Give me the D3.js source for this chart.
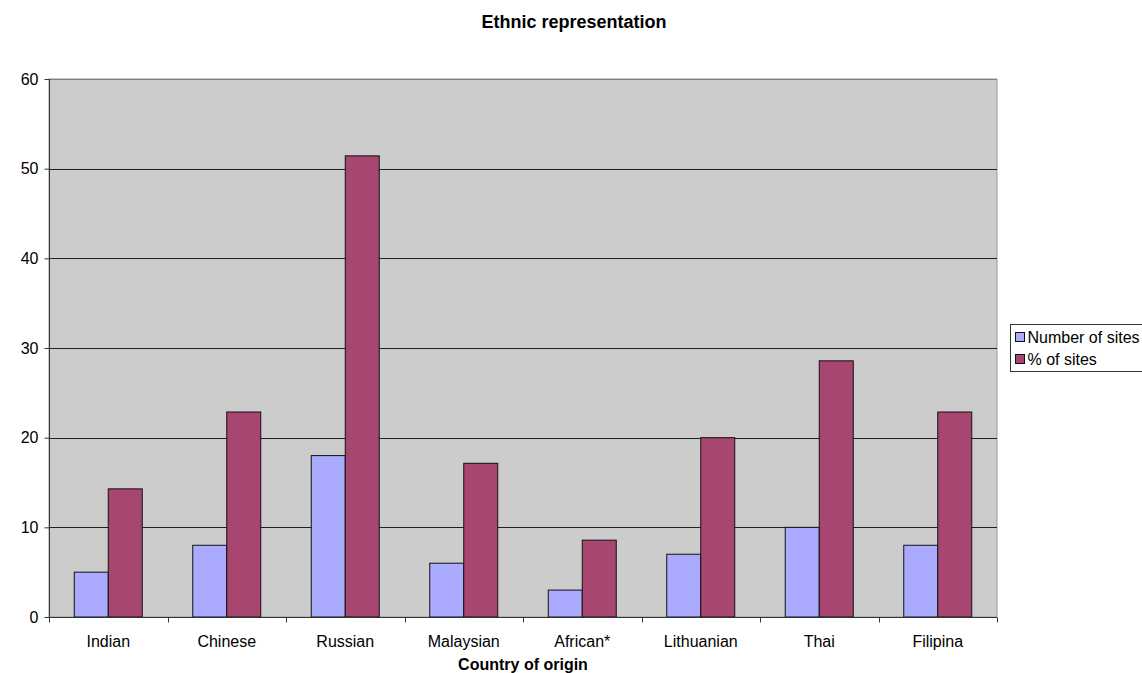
<!DOCTYPE html>
<html>
<head>
<meta charset="utf-8">
<script src="https://cdn.jsdelivr.net/npm/d3@7"></script>
<style>
  body { margin: 0; background: #fff; }
  text { font-family: "Liberation Sans", Arial, sans-serif; }
</style>
</head>
<body>
<svg id="chart" width="1142" height="673"></svg>
<script>
// chart data
const categories = ["Indian", "Chinese", "Russian", "Malaysian", "African*", "Lithuanian", "Thai", "Filipina"];
const numberOfSites = [5, 8, 18, 6, 3, 7, 10, 8];
const percentOfSites = [14.29, 22.86, 51.43, 17.14, 8.57, 20, 28.57, 22.86];
const seriesNames = ["Number of sites", "% of sites"];
const yTicks = [0, 10, 20, 30, 40, 50, 60];

const colors = ["#aaaaff", "#a84672"];
const plot = {left: 49, right: 997, top: 79, bottom: 617};

const svg = d3.select("#chart");

const x = d3.scaleBand()
    .domain(categories)
    .range([plot.left, plot.right]);
const y = d3.scaleLinear()
    .domain([0, 60])
    .range([plot.bottom, plot.top]);

// plot background
svg.append("rect")
    .attr("x", plot.left).attr("y", plot.top)
    .attr("width", plot.right - plot.left).attr("height", plot.bottom - plot.top)
    .attr("fill", "#cccccc")
    .attr("stroke", "#999").attr("stroke-width", 1);

// gridlines
svg.append("g")
    .selectAll("line")
    .data(yTicks.filter(d => d > 0))
    .join("line")
    .attr("x1", plot.left).attr("x2", plot.right)
    .attr("y1", d => Math.round(y(d)) + 0.5).attr("y2", d => Math.round(y(d)) + 0.5)
    .attr("stroke", d => d === 60 ? "#808080" : "#222")
    .attr("stroke-width", 1);

// bars
const barW = 34;
const groups = svg.append("g")
    .selectAll("g")
    .data(categories)
    .join("g")
    .attr("transform", d => `translate(${x(d) + x.bandwidth() / 2},0)`);

[numberOfSites, percentOfSites].forEach((series, s) => {
    groups.append("rect")
        .attr("x", s === 0 ? -barW : 0)
        .attr("y", (d, i) => y(series[i]))
        .attr("width", barW)
        .attr("height", (d, i) => plot.bottom - y(series[i]))
        .attr("fill", colors[s])
        .attr("stroke", "#111")
        .attr("stroke-width", 1);
});

// y axis
const yAxis = svg.append("g")
    .attr("transform", `translate(${plot.left + 0.5},0)`)
    .call(d3.axisLeft(y).tickValues(yTicks).tickSize(5).tickPadding(6).tickFormat(d3.format("d")));
yAxis.select(".domain").attr("stroke", "#333").attr("d", `M-0,${plot.top}V${plot.bottom}`);
yAxis.selectAll(".tick line").attr("stroke", "#333");
yAxis.selectAll("text").attr("font-size", 16).attr("fill", "#000")
    .style("font-family", "Liberation Sans, Arial, sans-serif");

// x axis with ticks between categories
const xAxis = svg.append("g")
    .attr("transform", `translate(0,${plot.bottom + 0.5})`);
xAxis.append("line")
    .attr("x1", plot.left).attr("x2", plot.right)
    .attr("stroke", "#333");
xAxis.selectAll("line.tk")
    .data(d3.range(categories.length + 1))
    .join("line")
    .attr("class", "tk")
    .attr("x1", i => Math.round(plot.left + i * x.step()) + 0.5)
    .attr("x2", i => Math.round(plot.left + i * x.step()) + 0.5)
    .attr("y1", 0).attr("y2", 5)
    .attr("stroke", "#333");
xAxis.selectAll("text")
    .data(categories)
    .join("text")
    .attr("x", d => x(d) + x.bandwidth() / 2)
    .attr("y", 29)
    .attr("text-anchor", "middle")
    .attr("font-size", 16)
    .text(d => d);

// titles
svg.append("text")
    .attr("x", 574).attr("y", 28)
    .attr("text-anchor", "middle")
    .attr("font-size", 18).attr("font-weight", "bold")
    .text("Ethnic representation");
svg.append("text")
    .attr("x", (plot.left + plot.right) / 2).attr("y", 670)
    .attr("text-anchor", "middle")
    .attr("font-size", 16).attr("font-weight", "bold")
    .text("Country of origin");

// legend
const legend = svg.append("g").attr("transform", "translate(1010.5,324.5)");
legend.append("rect")
    .attr("width", 140).attr("height", 47)
    .attr("fill", "#fff").attr("stroke", "#333");
seriesNames.forEach((name, i) => {
    legend.append("rect")
        .attr("x", 5).attr("y", 8 + i * 22)
        .attr("width", 9).attr("height", 9)
        .attr("fill", colors[i]).attr("stroke", "#111");
    legend.append("text")
        .attr("x", 17).attr("y", 18 + i * 22)
        .attr("font-size", 16)
        .text(name);
});
</script>
</body>
</html>
